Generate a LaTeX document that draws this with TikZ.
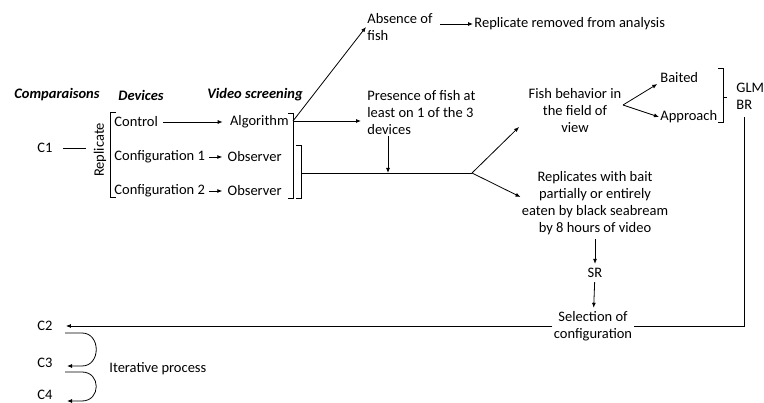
\documentclass[tikz,border=0pt]{standalone}
\usepackage{fontspec}
\setmainfont{Carlito}
\usetikzlibrary{positioning, arrows.meta}

\begin{document}
\begin{tikzpicture}[x=1pt, y=-1pt, line width=0.8pt, >={Latex[length=5pt,width=4pt]}]

    \tikzstyle{txt} = [inner sep=1pt, font=\fontsize{14.5}{17}\selectfont];
    \tikzstyle{head} = [inner sep=1pt, font=\fontsize{14.5}{17}\selectfont\bfseries\itshape];

    \useasboundingbox (0,0) rectangle (764,403);

    % Headers
    \node[head] (comp) at (57,95) {Comparaisons};
    \node[head] (dev) at (141,95) {Devices};
    \node[head] (vid) at (255,95) {Video screening};

    % Devices and screening
    \node[txt, anchor=west] (ctrl) at (113,122) {Control};
    \node[txt, anchor=west] (conf1) at (113,157) {Configuration 1};
    \node[txt, anchor=west] (conf2) at (113,191) {Configuration 2};
    \node[txt, anchor=east] (algo) at (290,122) {Algorithm};
    \node[txt, anchor=east] (obs1) at (283,157) {Observer};
    \node[txt, anchor=east] (obs2) at (283,191) {Observer};

    \draw [->, shorten <=4pt, shorten >=6pt] (ctrl) to (algo);
    \draw [->, shorten <=3pt, shorten >=4pt] (conf1) to (obs1);
    \draw [->, shorten <=3pt, shorten >=4pt] (conf2) to (obs2);

    \node[txt, rotate=90] (rep) at (100,150) {Replicate};
    \node[txt] (c1) at (45,148) {C1};
    \draw [shorten <=9pt, shorten >=6pt] (c1) to (c1 -| rep.north);

    % Brackets
    \draw (116,112) -- (110,112) -- (110,197) -- (116,197);
    \draw (288,113) -- (293,113) -- (293,198) -- (288,198);
    \draw (296,145) -- (301,145) -- (301,198) -- (296,198);

    \coordinate (br1) at (293,121);
    \coordinate (br2) at (301,173);
    \coordinate (fork) at (472,173);
    \coordinate (mid) at (388,173);

    % Presence / absence
    \node[txt, align=left, anchor=north west] (abs) at (366,12) {Absence of\\fish};
    \node[txt, anchor=west] (rem) at (473,24) {Replicate removed from analysis};
    \node[txt, align=left, anchor=north west] (pres) at (366,89) {Presence of fish at\\least on 1 of the 3\\devices};

    \draw [->] (br1) to (abs.west);
    \draw [->] ([xshift=6pt]abs.east |- rem.west) to (rem.west);
    \draw [->, shorten >=5pt] (br1) to (br1 -| pres.west);
    \draw [->] (mid |- pres.south) to (mid);
    \draw (br2) -- (fork);

    % Fish behavior
    \node[txt, align=center] (beh) at (575,111) {Fish behavior in\\the field of\\view};
    \coordinate (behin) at (519,127);
    \coordinate (fork2) at (623,105);
    \node[txt, anchor=west] (baited) at (659,78) {Baited};
    \node[txt, anchor=west] (appr) at (659,117) {Approach};

    \draw [->] (fork) to (behin);
    \draw [->, shorten >=2pt] (fork2) to ([yshift=-5pt]baited.west);
    \draw [->] (fork2) to (appr.west);

    \draw (718,68) -- (723,68) -- (723,122) -- (718,122);
    \draw (723,97) -- (727,97);
    \node[txt, anchor=west] (glm) at (735,88) {GLM};
    \node[txt, anchor=west] (br) at (735,105) {BR};

    % Bait
    \node[txt, align=center] (bait) at (595,203) {Replicates with bait\\partially or entirely\\eaten by black seabream\\by 8 hours of video};
    \node[txt] (sr) at (595,273) {SR};
    \node[txt, align=center] (sel) at (593,326) {Selection of\\configuration};

    \draw [->] (fork) to ([yshift=6pt]bait.west);
    \draw [->, shorten <=3pt, shorten >=3pt] (bait) to (sr);
    \draw [->, shorten <=3pt, shorten >=2pt] (sr) to (sel);

    % Iterations
    \node[txt] (c2) at (45,326) {C2};
    \node[txt] (c3) at (45,363) {C3};
    \node[txt] (c4) at (45,395) {C4};
    \node[txt, anchor=west] (iter) at (108,369) {Iterative process};

    \draw [shorten <=6pt] (br.south) |- (sel.east);
    \draw [->, shorten >=12pt] (sel.west) to (c2.east);

    \coordinate (it1) at (65,333);
    \coordinate (it2) at (67,366);
    \coordinate (it3) at (65,372);
    \coordinate (it4) at (67,401);
    \draw [->] (it1) -- (82,333) .. controls (101,333) and (101,366) .. (82,366) -- (it2);
    \draw [->] (it3) -- (82,372) .. controls (101,372) and (101,401) .. (82,401) -- (it4);

\end{tikzpicture}
\end{document}
